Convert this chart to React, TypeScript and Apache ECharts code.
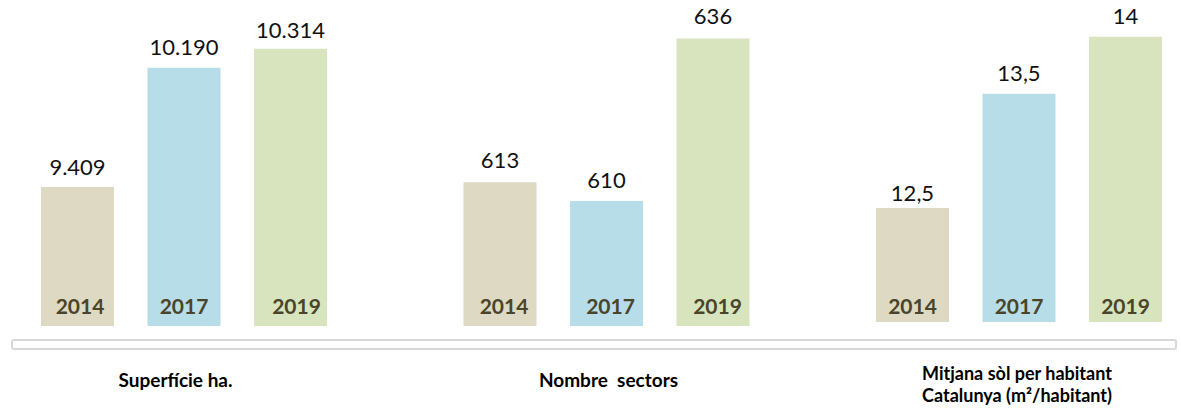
import React, { useEffect, useRef } from "react";
import * as echarts from "echarts";

// ---- data ----
const years = ["2014", "2017", "2019"];
const groupNames = ["Superfície ha.", "Nombre  sectors", "Mitjana sòl per habitant"];
const groupSubName = "Catalunya (m²/habitant)";
const superficie = [9409, 10190, 10314];
const sectors = [613, 610, 636];
const mitjana = [12.5, 13.5, 14];
const groupValues = [superficie, sectors, mitjana];
const axisMin = [8500, 590, 11.5];
const axisMax = [10463, 638, 14.13];

// ---- style ----
const barColors = ["#DDD9C3", "#B7DDE8", "#D7E4BD"];
const FONT = "Lato, 'Open Sans', sans-serif";
const gridLeft = [24.25, 446.75, 859.25];
const gridBottom = [82, 82, 86];
const gridTop = [26, 26, 22];
const yearOffsets = [[2.5, 0, 6], [4, 4, 4.5], [0, 0, 0]];
const yearDist = [10, 10, 6];
const valueLabelDist = [[10, 10, 8], [12, 11, 12], [4, 10, 10]];

function fmt(v: number): string {
  const [i, d] = String(v).split(".");
  const ip = i.replace(/\B(?=(\d{3})+(?!\d))/g, ".");
  return d ? ip + "," + d : ip;
}

export default function App() {
  const ref = useRef<HTMLDivElement>(null);
  useEffect(() => {
    if (!ref.current) return;
    const chart = echarts.init(ref.current, undefined, { renderer: "svg" });
    const grids = [0, 1, 2].map((g) => ({
      left: gridLeft[g],
      width: 319.5,
      top: gridTop[g],
      bottom: gridBottom[g],
    }));
    const xAxes = [0, 1, 2].map((g) => ({
      type: "category" as const,
      gridIndex: g,
      data: years,
      show: false,
    }));
    const yAxes = [0, 1, 2].map((g) => ({
      type: "value" as const,
      gridIndex: g,
      min: axisMin[g],
      max: axisMax[g],
      show: false,
      splitLine: { show: false },
    }));
    const series: any[] = [];
    [0, 1, 2].forEach((g) => {
      const vals = groupValues[g];
      series.push({
        type: "bar",
        xAxisIndex: g,
        yAxisIndex: g,
        barWidth: 73,
        barGap: "-100%",
        data: vals.map((v, i) => ({
          value: v,
          itemStyle: { color: barColors[i] },
          label: { offset: [yearOffsets[g][i], 0] },
        })),
        label: {
          show: true,
          position: "insideBottom",
          distance: yearDist[g],
          formatter: (p: any) => years[p.dataIndex],
          fontFamily: FONT,
          fontWeight: "bold",
          fontSize: 21,
          color: "#4A452A",
        },
      });
      series.push({
        type: "bar",
        xAxisIndex: g,
        yAxisIndex: g,
        barWidth: 73,
        barGap: "-100%",
        data: vals.map((v, i) => ({
          value: v,
          label: { distance: valueLabelDist[g][i] },
        })),
        itemStyle: { color: "rgba(0,0,0,0)" },
        label: {
          show: true,
          position: "top",
          distance: 8,
          formatter: (p: any) => fmt(p.value),
          fontFamily: FONT,
          fontSize: 22,
          color: "#111111",
        },
      });
    });
    const catStyle = {
      fontFamily: FONT,
      fontWeight: "bold",
      fontSize: 19,
      fill: "#000000",
      textAlign: "center",
      textVerticalAlign: "middle",
    };
    chart.setOption({
      animation: false,
      backgroundColor: "#ffffff",
      grid: grids,
      xAxis: xAxes,
      yAxis: yAxes,
      series,
      graphic: [
        {
          type: "rect",
          shape: { x: 12, y: 340, width: 1164, height: 9, r: 2 },
          style: { fill: "#ffffff", stroke: "#D9D9D9", lineWidth: 2 },
          z: -1,
        },
        {
          type: "text",
          x: 175.5,
          y: 379,
          style: { ...catStyle, text: groupNames[0] },
        },
        {
          type: "text",
          x: 608.5,
          y: 379,
          style: { ...catStyle, text: groupNames[1] },
        },
        {
          type: "text",
          x: 1017,
          y: 384,
          style: {
            ...catStyle,
            fontSize: 18,
            lineHeight: 22,
            text: groupNames[2] + "\n" + groupSubName,
          },
        },
      ],
    });
    return () => chart.dispose();
  }, []);
  return (
    <div
      ref={ref}
      style={{ position: "fixed", left: 0, top: 0, width: 1181, height: 408 }}
    />
  );
}
